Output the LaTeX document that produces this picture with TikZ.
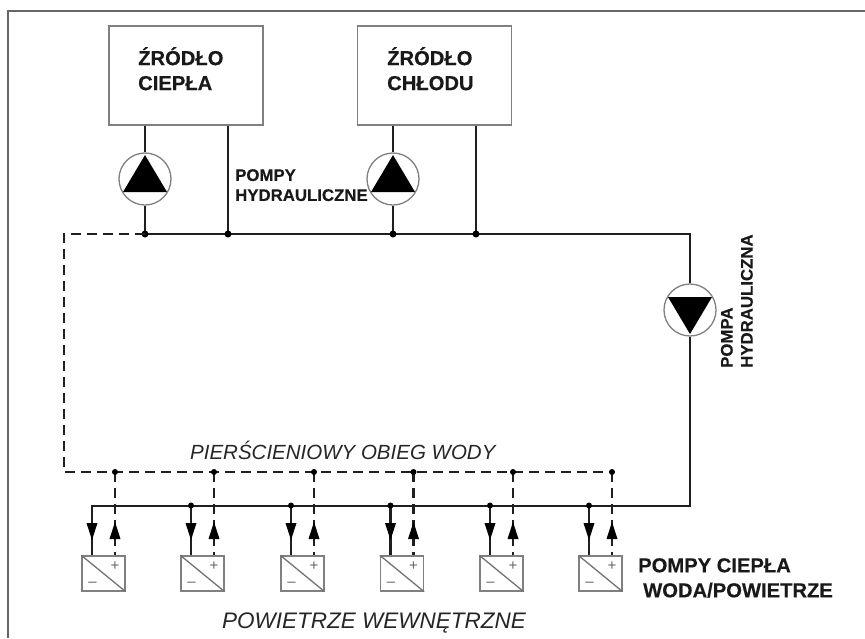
\documentclass[tikz,border=0pt]{standalone}
\usepackage{fontspec}
\setmainfont[BoldFeatures={FakeBold=0.3}]{Liberation Sans}
\tikzset{
  x=1pt,y=-1pt,
  pipe/.style={line width=2.4pt,black!88},
  ret/.style={line width=2.4pt,black!88,dash pattern=on 10pt off 6pt},
  box/.style={draw=black!50,line width=1.3pt,fill=white,inner sep=0pt},
  pumpc/.style={circle,draw=black!50,line width=1.3pt,fill=white,minimum size=52pt,inner sep=0pt},
  dot/.style={circle,fill=black,inner sep=0pt,minimum size=7pt},
  sdot/.style={circle,fill=black,inner sep=0pt,minimum size=6pt},
  bold/.style={font=\bfseries\fontsize{20.2}{25}\selectfont,align=left,inner sep=0pt,black!90},
  boldsm/.style={font=\bfseries\fontsize{16.8}{20}\selectfont,align=left,inner sep=0pt,black!90},
  ital/.style={font=\itshape\fontsize{20.5}{24}\selectfont,inner sep=0pt,black!85},
  hp/.style={draw=black!50,line width=1.3pt,fill=white,minimum width=43pt,minimum height=35pt,inner sep=0pt},
  sign/.style={font=\fontsize{15}{15}\selectfont,inner sep=0pt,black!60},
}
\begin{document}
\begin{tikzpicture}
\useasboundingbox (0,0) rectangle (865,638);
\fill[white] (0,0) rectangle (865,638);
\draw[black!60,line width=1.5pt] (8,638) -- (8,11) -- (865,11);
% sources
\node[box,minimum width=154pt,minimum height=99pt] (src1) at (186,75.5) {};
\node[box,minimum width=154pt,minimum height=99pt] (src2) at (434.5,75.5) {};
\node[bold,anchor=north west] (t1) at (138,47) {ŹRÓDŁO\\CIEPŁA};
\node[bold,anchor=north west] (t2) at (387,47) {ŹRÓDŁO\\CHŁODU};
% main supply
\coordinate (jA) at (145,234);
\coordinate (jB) at (228,234);
\coordinate (jC) at (393,234);
\coordinate (jD) at (476,234);
\coordinate (cornerR) at (690,234);
\coordinate (cornerRB) at (690,506);
\coordinate (cornerL) at (92,506);
\coordinate (cornerTL) at (64,234);
\coordinate (cornerBL) at (64,472);
\coordinate (retEnd) at (612,472);
% pumps
\node[pumpc] (p1) at (145,179) {};
\node[pumpc] (p2) at (393,179) {};
\node[pumpc] (p3) at (690,310) {};
\draw[pipe] (src1.south -| jA) -- (p1.north);
\draw[pipe] (p1.south) -- (jA);
\draw[pipe] (src1.south -| jB) -- (jB);
\draw[pipe] (src2.south -| jC) -- (p2.north);
\draw[pipe] (p2.south) -- (jC);
\draw[pipe] (src2.south -| jD) -- (jD);
\draw[pipe,line join=miter] (jA) -- (cornerR) -- (p3.north);
\draw[pipe,line join=miter] (p3.south) -- (cornerRB) -- (cornerL) -- (92,556);
\fill[black] (145,155) -- (167,192) -- (123,192) -- cycle;
\fill[black] (393,155) -- (415,192) -- (371,192) -- cycle;
\fill[black] (690,334) -- (668,297) -- (712,297) -- cycle;
\foreach \c in {jA,jB,jC,jD} \node[dot] at (\c) {};
% return
\draw[ret] (jA) -- (cornerTL) -- (cornerBL) -- (retEnd);
% heat pumps
\foreach \n/\x in {0/103.5,1/202.5,2/302.5,3/402,4/501.5,5/600.5}{
  \node[hp] (h\n) at (\x,573.5) {};
  \draw[black!55,line width=1.3pt] (h\n.north west) -- (h\n.south east);
  \node[sign] at (\x+11.5,566) {+};
  \node[sign] at (\x-11,584) {–};
  \coordinate (ti\n) at (\x-11.5,505.5);
  \coordinate (to\n) at (\x+11.5,472);
  \draw[ret] (to\n) -- (h\n.north -| to\n);
  \draw[pipe] (ti\n) -- (h\n.north -| ti\n);
  \node[sdot] at (to\n) {};
  \ifnum\n>0 \node[sdot] at (ti\n) {};\fi
  \fill[black] (\x-17,523) -- (\x-6,523) -- (\x-11.5,540) -- cycle;
  \fill[black] (\x+11.5,522) -- (\x+17,539) -- (\x+6,539) -- cycle;
}
% labels
\node[boldsm,anchor=north west] (l1) at (235,169) {POMPY\\HYDRAULICZNE};
\node[boldsm,anchor=south west,rotate=90] (l2) at (753,368) {POMPA\\HYDRAULICZNA};
\node[ital,anchor=west] (l3) at (190,450.5) {PIERŚCIENIOWY OBIEG WODY};
\node[ital,anchor=west,font=\itshape\fontsize{22.5}{24}\selectfont] (l4) at (222,623) {POWIETRZE WEWNĘTRZNE};
\node[bold,anchor=north west] (l5) at (638,558) {POMPY CIEPŁA\\\hspace*{5pt}WODA/POWIETRZE};
\end{tikzpicture}
\end{document}
